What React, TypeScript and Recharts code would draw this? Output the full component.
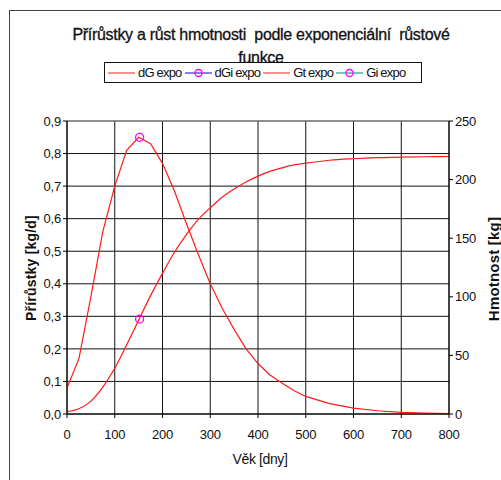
import React from "react"
import { ComposedChart, Line, XAxis, YAxis, CartesianGrid, ReferenceLine } from "recharts"

// age in days
const ages = [0, 25, 50, 75, 100, 125, 150, 175, 200, 225, 250, 275, 300, 325, 350, 375, 400, 425, 450, 475, 500, 550, 600, 650, 700, 750, 800]
// dG expo – daily gain [kg/d]
const gain = [0.08, 0.17, 0.36, 0.56, 0.7, 0.81, 0.85, 0.83, 0.77, 0.685, 0.585, 0.49, 0.4, 0.325, 0.26, 0.2, 0.155, 0.12, 0.095, 0.072, 0.054, 0.032, 0.018, 0.01, 0.005, 0.003, 0.001]
// Gt expo – body weight [kg]
const weight = [2, 4.5, 11, 23, 39, 59, 80, 101, 120, 138, 153, 166, 176, 185, 192, 198, 203, 207, 210, 212.5, 214, 216.5, 217.8, 218.7, 219.2, 219.5, 219.7]

// inflection point
const inflAge = [152]
const inflGain = [0.85]
const inflWeight = [81]

const xTicks = [0, 100, 200, 300, 400, 500, 600, 700, 800]
const leftTicks = [0, 0.1, 0.2, 0.3, 0.4, 0.5, 0.6, 0.7, 0.8, 0.9]
const rightTicks = [0, 50, 100, 150, 200, 250]

const rows = ages.map((age, i) => ({ age, gain: gain[i], weight: weight[i] }))
const gainPts = inflAge.map((age, i) => ({ age, v: inflGain[i] }))
const weightPts = inflAge.map((age, i) => ({ age, v: inflWeight[i] }))

const FONT = "'Liberation Sans', Arial, sans-serif"
const RED = "#ff1a1a"
const MAGENTA = "#ff00ff"

const tickStyle = { fontSize: 13, fill: "#111", fontFamily: FONT, letterSpacing: -0.2 }

const LegendItem = ({ color, marker, label }: { color: string; marker?: boolean; label: string }) => (
  <div style={{ display: "flex", alignItems: "center", marginRight: 3 }}>
    <svg width={27} height={10} style={{ marginRight: 3 }}>
      <line x1={0} y1={5} x2={27} y2={5} stroke={color} strokeWidth={1} />
      {marker && <circle cx={13.5} cy={5} r={3.5} fill="none" stroke={MAGENTA} strokeWidth={1.3} />}
    </svg>
    <span>{label}</span>
  </div>
)

export default function App() {
  return (
    <div style={{ position: "fixed", left: 0, top: 0, width: 501, height: 480, overflow: "hidden", background: "#fff", fontFamily: FONT }}>
      <div style={{ position: "absolute", left: 9, top: 10, width: 600, height: 600, border: "1px solid #444" }} />

      <div style={{ position: "absolute", left: 0, width: 522, top: 23, textAlign: "center", fontSize: 16, lineHeight: "23px", color: "#111", letterSpacing: -0.3, WebkitTextStroke: "0.3px #111" }}>
        Přírůstky a růst hmotnosti&nbsp; podle exponenciální&nbsp; růstové<br />funkce
      </div>

      <ComposedChart width={501} height={480} data={rows} margin={{ top: 121, right: 0, bottom: 36, left: 0 }} style={{ position: "absolute", left: 0, top: 0 }}>
        <CartesianGrid stroke="#111" strokeWidth={1} yAxisId="left" />
        <XAxis dataKey="age" type="number" domain={[0, 800]} ticks={xTicks} height={30} tickSize={4} tickMargin={12} stroke="#000" tick={tickStyle} interval={0} />
        <YAxis yAxisId="left" domain={[0, 0.9]} ticks={leftTicks} width={67} tickSize={4} tickMargin={2} stroke="#000" tick={tickStyle} interval={0} tickFormatter={(v: number) => v.toFixed(1).replace(".", ",")} />
        <YAxis yAxisId="right" orientation="right" domain={[0, 250]} ticks={rightTicks} width={52} tickSize={4} tickMargin={2} stroke="#000" tick={tickStyle} interval={0} />
        <ReferenceLine yAxisId="left" y={0.9} stroke="#999" />
        <Line yAxisId="left" type="linear" dataKey="gain" stroke={RED} strokeWidth={1.2} dot={false} isAnimationActive={false} />
        <Line yAxisId="right" type="monotone" dataKey="weight" stroke={RED} strokeWidth={1.2} dot={false} isAnimationActive={false} />
        <Line yAxisId="left" data={gainPts} dataKey="v" stroke="none" dot={{ r: 4, stroke: MAGENTA, fill: "none", strokeWidth: 1.3 }} isAnimationActive={false} />
        <Line yAxisId="right" data={weightPts} dataKey="v" stroke="none" dot={{ r: 4, stroke: MAGENTA, fill: "none", strokeWidth: 1.3 }} isAnimationActive={false} />
      </ComposedChart>

      <div style={{ position: "absolute", left: 104, top: 62, width: 318, height: 21, border: "1px solid #111", background: "#fff", display: "flex", alignItems: "center", paddingLeft: 3, boxSizing: "border-box", fontSize: 13, letterSpacing: -0.8, color: "#111" }}>
        <LegendItem color={RED} label="dG expo" />
        <LegendItem color="#0000ff" marker label="dGi expo" />
        <LegendItem color={RED} label="Gt expo" />
        <LegendItem color="#008080" marker label="Gi expo" />
      </div>

      <div style={{ position: "absolute", left: 31, top: 268, transform: "translate(-50%, -50%) rotate(-90deg)", whiteSpace: "nowrap", fontSize: 14, fontWeight: "bold", color: "#111", letterSpacing: 0.2 }}>
        Přírůstky [kg/d]
      </div>
      <div style={{ position: "absolute", left: 493, top: 269, transform: "translate(-50%, -50%) rotate(-90deg)", whiteSpace: "nowrap", fontSize: 15, fontWeight: "bold", color: "#111", letterSpacing: 0.2 }}>
        Hmotnost [kg]
      </div>
      <div style={{ position: "absolute", left: 260, top: 459, transform: "translate(-50%, -50%)", whiteSpace: "nowrap", fontSize: 14, color: "#111", letterSpacing: -0.4 }}>
        Věk [dny]
      </div>
    </div>
  )
}
